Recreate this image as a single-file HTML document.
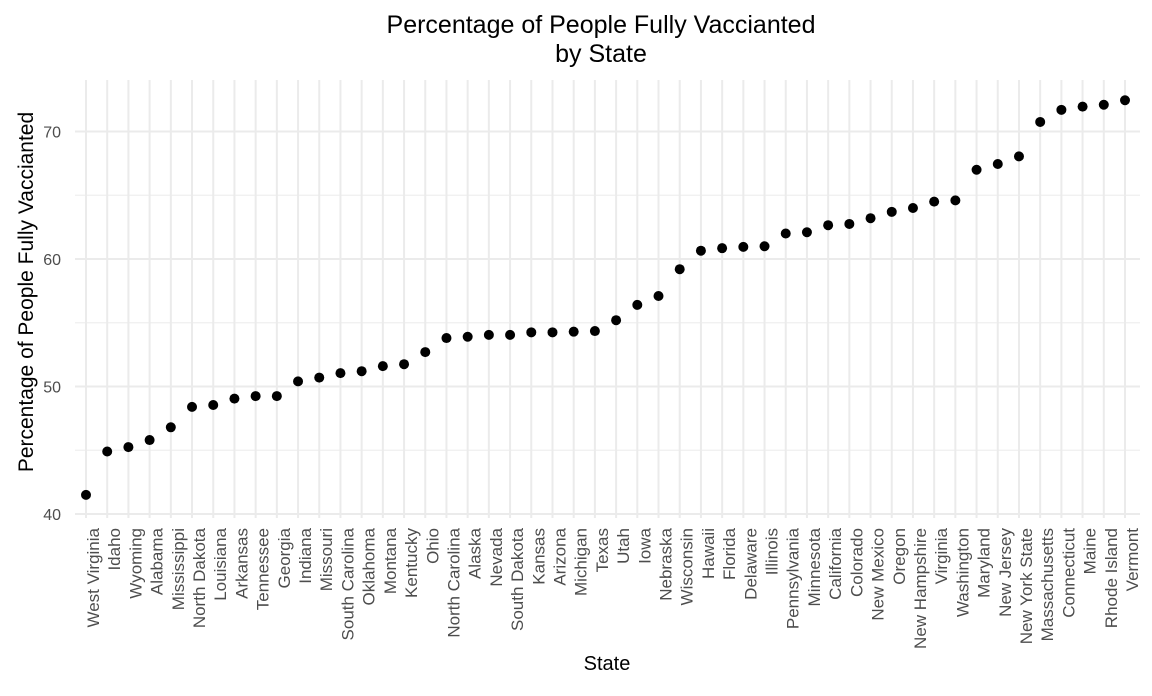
<!DOCTYPE html>
<html><head><meta charset="utf-8"><style>
body{margin:0;background:#fff}
svg{font-family:"Liberation Sans",Arial,sans-serif}
</style></head><body>
<svg id="c" width="1152" height="691"></svg>
<script>
const states=["West Virginia","Idaho","Wyoming","Alabama","Mississippi","North Dakota","Louisiana","Arkansas","Tennessee","Georgia","Indiana","Missouri","South Carolina","Oklahoma","Montana","Kentucky","Ohio","North Carolina","Alaska","Nevada","South Dakota","Kansas","Arizona","Michigan","Texas","Utah","Iowa","Nebraska","Wisconsin","Hawaii","Florida","Delaware","Illinois","Pennsylvania","Minnesota","California","Colorado","New Mexico","Oregon","New Hampshire","Virginia","Washington","Maryland","New Jersey","New York State","Massachusetts","Connecticut","Maine","Rhode Island","Vermont"];
const values=[41.5,44.9,45.25,45.8,46.8,48.4,48.55,49.05,49.25,49.25,50.4,50.7,51.05,51.2,51.6,51.75,52.7,53.8,53.9,54.05,54.05,54.25,54.25,54.3,54.35,55.2,56.4,57.1,59.2,60.65,60.85,60.95,61.0,62.0,62.1,62.65,62.75,63.2,63.7,64.0,64.5,64.6,67.0,67.45,68.05,70.75,71.7,71.95,72.1,72.45];
const majorTicks=[40,50,60,70];
const minorTicks=[45,55,65];
const svg=document.getElementById('c');
const NS='http://www.w3.org/2000/svg';
const xs=i=>86+i*(1125-86)/(states.length-1);
const ys=v=>514-(v-40)*12.75;
const PT=80,PB=518,PL=75,PR=1140;
function mk(t,a){const e=document.createElementNS(NS,t);for(const k in a)e.setAttribute(k,a[k]);svg.appendChild(e);return e;}
minorTicks.forEach(v=>{const l=mk('line',{x1:PL,x2:PR,y1:ys(v),y2:ys(v),stroke:'#efefef','stroke-width':1.2});

});
majorTicks.forEach(v=>{const l=mk('line',{x1:PL,x2:PR,y1:ys(v),y2:ys(v),stroke:'#ebebeb','stroke-width':2});


const t=mk('text',{x:61,y:ys(v)+6,'text-anchor':'end','font-size':16,fill:'#4d4d4d'});t.textContent=v;

});
states.forEach((s,i)=>{const l=mk('line',{x1:xs(i),x2:xs(i),y1:PT,y2:PB,stroke:'#ebebeb','stroke-width':2});

});
states.forEach((s,i)=>{const t=mk('text',{transform:`translate(${xs(i)+13},528) rotate(-90)`,'text-anchor':'end','font-size':17,fill:'#4d4d4d'});t.textContent=s;

});
values.forEach((v,i)=>{const c=mk('circle',{cx:xs(i),cy:ys(v),r:5,fill:'#000'});

});
let t=mk('text',{x:601,y:33,'text-anchor':'middle','font-size':25,fill:'#000'});t.textContent='Percentage of People Fully Vaccianted';


t=mk('text',{x:601,y:62,'text-anchor':'middle','font-size':25,fill:'#000'});t.textContent='by State';


t=mk('text',{x:607,y:670,'text-anchor':'middle','font-size':20,fill:'#000'});t.textContent='State';


t=mk('text',{transform:'translate(33,292) rotate(-90)','text-anchor':'middle','font-size':21,fill:'#000'});t.textContent='Percentage of People Fully Vaccianted';


</script>
</body></html>
